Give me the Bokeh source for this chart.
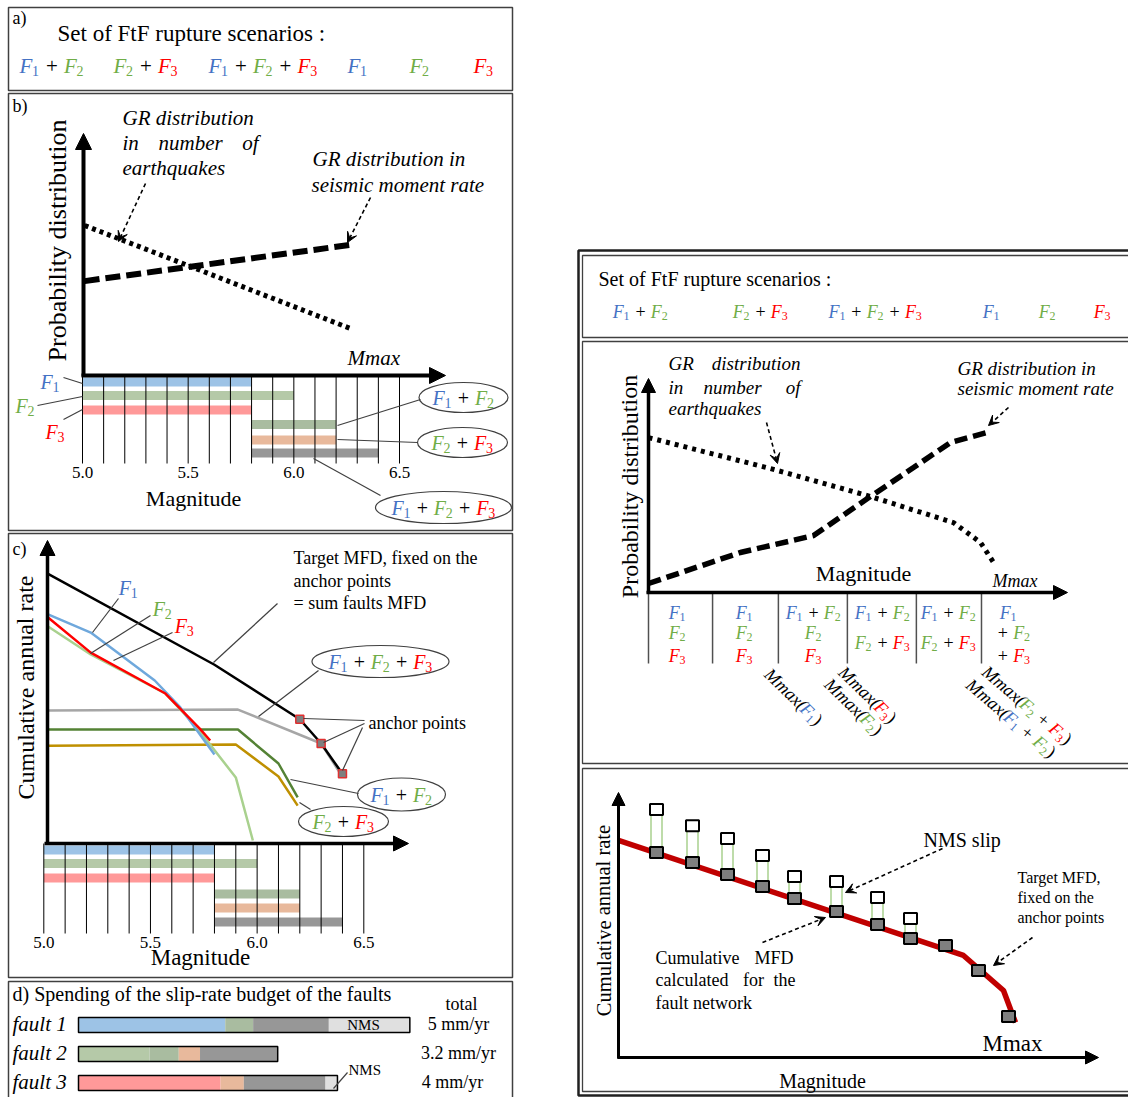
import math
from bokeh.plotting import figure
from bokeh.models import Range1d, Arrow, NormalHead, VeeHead, ColumnDataSource
from bokeh.core.properties import value
from bokeh.embed import file_html
from bokeh.resources import INLINE

# ======================= DATA =======================
# a) set of fault-to-fault (FtF) rupture scenarios
scenario_set = ["F1+F2", "F2+F3", "F1+F2+F3", "F1", "F2", "F3"]

# b) / c) magnitude ranges of the single-fault and FtF ruptures
rupture_names = ["F1", "F2", "F3", "F1+F2", "F2+F3", "F1+F2+F3"]
rupture_mag_min = [5.0, 5.0, 5.0, 5.8, 5.8, 5.8]
rupture_mag_max = [5.8, 6.0, 5.8, 6.2, 6.2, 6.4]
mag_bin_edges = [5.0, 5.1, 5.2, 5.3, 5.4, 5.5, 5.6, 5.7, 5.8, 5.9,
                 6.0, 6.1, 6.2, 6.3, 6.4, 6.5]
mag_tick_values = [5.0, 5.5, 6.0, 6.5]
mag_tick_labels = ["5.0", "5.5", "6.0", "6.5"]

# b) GR distributions (relative probability)
gr_number_mag = [5.01, 6.28]
gr_number = [0.62, 0.19]
gr_moment_mag = [5.01, 6.27]
gr_moment = [0.39, 0.54]

# c) MFDs (relative cumulative annual rate)
c_target_mag = [5.02, 5.80, 6.20, 6.30, 6.40]
c_target_rate = [0.89, 0.59, 0.41, 0.33, 0.23]
c_f1_mag = [5.02, 5.22, 5.52, 5.64, 5.80]
c_f1_rate = [0.756, 0.696, 0.538, 0.449, 0.294]
c_f2_mag = [5.02, 5.22, 5.57, 5.71, 5.90, 5.98]
c_f2_rate = [0.716, 0.624, 0.495, 0.389, 0.218, 0.010]
c_f3_mag = [5.02, 5.22, 5.57, 5.73, 5.78]
c_f3_rate = [0.746, 0.630, 0.495, 0.380, 0.340]
c_f123_mag = [5.02, 5.91, 6.30, 6.39]
c_f123_rate = [0.439, 0.442, 0.330, 0.231]
c_f12_mag = [5.02, 5.91, 6.10, 6.19]
c_f12_rate = [0.376, 0.376, 0.264, 0.152]
c_f23_mag = [5.02, 5.90, 6.10, 6.19]
c_f23_rate = [0.323, 0.327, 0.221, 0.125]
c_anchor_mag = [6.20, 6.30, 6.40]
c_anchor_rate = [0.41, 0.33, 0.23]

# d) spending of the slip-rate budget (mm/yr)
fault_names = ["fault 1", "fault 2", "fault 3"]
fault_total_labels = ["5 mm/yr", "3.2 mm/yr", "4 mm/yr"]
fault1_slip = [2.21, 0.42, 1.14, 1.22]
fault1_use = ["F1", "F1+F2", "F1+F2+F3", "NMS"]
fault2_slip = [1.07, 0.44, 0.32, 1.17]
fault2_use = ["F2", "F1+F2", "F2+F3", "F1+F2+F3"]
fault3_slip = [2.14, 0.35, 1.23, 0.18]
fault3_use = ["F3", "F2+F3", "F1+F2+F3", "NMS"]

# right, middle: GR distributions over the magnitude bins (relative units)
r2_bin_edges = [0.0, 0.182, 0.369, 0.565, 0.761, 0.946]
r2_gr_number_u = [0.0, 0.347, 0.622, 0.866, 0.943, 0.986]
r2_gr_number = [0.724, 0.579, 0.453, 0.327, 0.234, 0.126]
r2_gr_moment_u = [0.0, 0.261, 0.469, 0.622, 0.753, 0.858, 0.963]
r2_gr_moment = [0.042, 0.187, 0.266, 0.439, 0.584, 0.701, 0.748]
r2_bin_ruptures = [["F1", "F2", "F3"], ["F1", "F2", "F3"], ["F1+F2", "F2", "F3"],
                   ["F1+F2", "F2+F3"], ["F1+F2", "F2+F3"], ["F1", "+F2", "+F3"]]
r2_mmax_labels = ["F1", "F3", "F2", "F2+F3", "F1+F2"]

# right, bottom: cumulative MFD of the network vs target
r3_target_u = [0.0, 0.8625, 0.9625, 0.9925]
r3_target_v = [0.819, 0.385, 0.253, 0.132]
r3_mfd_u = [0.095, 0.185, 0.2725, 0.36, 0.44, 0.545, 0.6475, 0.73, 0.8175, 0.9, 0.975]
r3_mfd_v = [0.774, 0.736, 0.691, 0.645, 0.600, 0.551, 0.502, 0.449, 0.423, 0.328, 0.155]
r3_nms_v = [0.936, 0.875, 0.826, 0.762, 0.683, 0.664, 0.604, 0.525]

# ======================= STYLE =======================
SERIF = "Liberation Serif"
COLF = {"1": "#4472C4", "2": "#70AD47", "3": "#FF0000"}
RUP_COL = {"F1": "#9DC3E6", "F2": "#B5C9A8", "F3": "#FF9999", "F1+F2": "#A9BCA0",
           "F2+F3": "#E8B99C", "F1+F2+F3": "#979797", "NMS": "#E0E0E0"}
BOX = "#404040"
W_PX, H_PX = 1128, 1097

p = figure(width=W_PX, height=H_PX, x_range=Range1d(0, W_PX), y_range=Range1d(H_PX, 0),
           output_backend="svg", toolbar_location=None, min_border=0,
           x_axis_location=None, y_axis_location=None)
p.outline_line_color = None
p.grid.visible = False
p.background_fill_color = "white"


def xmap(px0, v0, px1, v1):
    k = (v1 - v0) / (px1 - px0)
    return Range1d(start=v0 + (0 - px0) * k, end=v0 + (W_PX - px0) * k)


def ymap(py0, v0, py1, v1):
    k = (v1 - v0) / (py1 - py0)
    return Range1d(start=v0 + (H_PX - py0) * k, end=v0 + (0 - py0) * k)


p.extra_x_ranges = {"mb": xmap(82, 5.0, 399, 6.5), "mc": xmap(43.3, 5.0, 363.3, 6.5),
                    "u2": xmap(648, 0, 1000, 1), "u3": xmap(618, 0, 1018, 1),
                    "slip": xmap(78, 0, 410, 5)}
p.extra_y_ranges = {"vb": ymap(375, 0, 133, 1), "vc": ymap(843, 0, 540, 1),
                    "v2": ymap(592, 0, 378, 1), "v3": ymap(1057, 0, 792, 1)}

# ---------- helpers ----------
texts = {}


def T(x, y, s, size, color="black", style="normal", align="left", baseline="middle",
      angle=0.0, xr="default", yr="default"):
    key = (size, style, align, baseline, xr, yr)
    d = texts.setdefault(key, dict(x=[], y=[], text=[], color=[], angle=[]))
    d["x"].append(x)
    d["y"].append(y)
    d["text"].append(s)
    d["color"].append(color)
    d["angle"].append(angle)


def formula(x, y, expr, size, align="left", ang=0.0, prefix=None, suffix=None):
    toks = []
    if prefix:
        toks.append(("pre", prefix))
    i = 0
    while i < len(expr):
        c = expr[i]
        if c == "F":
            toks.append(("F", expr[i + 1]))
            i += 2
        elif c == "+":
            toks.append(("+", None))
            i += 1
        else:
            i += 1
    if suffix:
        toks.append(("suf", suffix))
    W = {"F": 0.97, "+": 1.15, "pre": 2.75, "suf": 0.4}
    total = sum(W[k] for k, _ in toks) * size
    pos = {"left": 0.0, "center": -total / 2, "right": -total}[align]
    th = math.radians(ang)
    dx, dy = math.cos(th), math.sin(th)
    nx, ny = -math.sin(th), math.cos(th)
    a = -th
    for k, v in toks:
        bx, by = x + dx * pos, y + dy * pos
        if k == "F":
            col = COLF[v]
            T(bx, by, "F", size, col, "italic", angle=a)
            sp = pos + 0.6 * size
            T(x + dx * sp + nx * 0.27 * size, y + dy * sp + ny * 0.27 * size, v,
              round(size * 0.68), col, angle=a)
        elif k == "+":
            cp = pos + 0.575 * size
            T(x + dx * cp, y + dy * cp, "+", size, align="center", angle=a)
        elif k == "pre":
            T(bx, by, v, size, style="italic", angle=a)
        else:
            T(bx, by, v, size, angle=a)
        pos += W[k] * size


def darrow(x0, y0, x1, y1):
    p.add_layout(Arrow(x_start=x0, y_start=y0, x_end=x1, y_end=y1, line_width=1.6,
                       line_dash="4 3", line_color="black",
                       end=VeeHead(size=10, fill_color="black", line_color="black",
                                   line_width=1)))


def axarrow(x0, y0, x1, y1, w, hs):
    p.add_layout(Arrow(x_start=x0, y_start=y0, x_end=x1, y_end=y1, line_width=w,
                       line_color="black",
                       end=NormalHead(size=hs, fill_color="black", line_color="black",
                                      line_width=1)))


leaders = dict(x0=[], y0=[], x1=[], y1=[])


def lead(x0, y0, x1, y1):
    leaders["x0"].append(x0)
    leaders["y0"].append(y0)
    leaders["x1"].append(x1)
    leaders["y1"].append(y1)


# ---------- frames ----------
p.quad(left=[8, 8, 8, 8], right=[512, 512, 512, 512], top=[7, 93, 533, 981],
       bottom=[90, 530, 977, 1110], fill_color=None, line_color=BOX, line_width=1.5)
p.quad(left=[578], right=[1140], top=[250], bottom=[1095], fill_color=None,
       line_color="#202020", line_width=2.5)
p.quad(left=[582, 582, 582], right=[1136, 1136, 1136], top=[255, 341, 768],
       bottom=[337, 763, 1091], fill_color=None, line_color=BOX, line_width=1.3)

# ======================= PANEL a =======================
T(12, 17, "a)", 18)
T(57, 33, "Set of FtF rupture scenarios :", 23)
for xl, sc in zip([19, 113, 208, 347, 409, 473], scenario_set):
    formula(xl, 65, sc, 21)

# ======================= PANEL b =======================
T(12, 105, "b)", 18)
T(57, 240, "Probability distribution", 26, align="center", angle=math.pi / 2)
b_rows = [381.5, 395, 409.5, 424, 439.5, 452.5]
p.hbar(y=b_rows, height=9, left=rupture_mag_min, right=rupture_mag_max,
       fill_color=[RUP_COL[n] for n in rupture_names], line_color=None, x_range_name="mb")
p.segment(x0=mag_bin_edges, y0=[375] * len(mag_bin_edges), x1=mag_bin_edges,
          y1=[463] * len(mag_bin_edges), line_color="black", line_width=1,
          x_range_name="mb")
p.line(gr_number_mag, gr_number, line_color="black", line_width=5, line_dash="4 4",
       x_range_name="mb", y_range_name="vb")
p.line(gr_moment_mag, gr_moment, line_color="black", line_width=6, line_dash="15 6",
       x_range_name="mb", y_range_name="vb")
axarrow(83, 376, 83, 133, 4, 16)
axarrow(81, 375, 445, 375, 4, 16)
for mv, ml in zip(mag_tick_values, mag_tick_labels):
    T(mv, 472, ml, 17, align="center", xr="mb")
T(193, 498, "Magnitude", 22, align="center")
T(347, 357, "Mmax", 21, style="italic")
T(122, 117, "GR distribution", 21, style="italic")
T(122, 142, "in", 21, style="italic")
T(158, 142, "number", 21, style="italic")
T(258, 142, "of", 21, style="italic", align="right")
T(122, 167, "earthquakes", 21, style="italic")
T(312, 158, "GR distribution in", 21, style="italic")
T(311, 184, "seismic moment rate", 21, style="italic")
darrow(145, 183, 118, 241)
darrow(370, 197, 347, 242)
formula(40, 381, "F1", 20)
formula(15, 405, "F2", 20)
formula(45, 431, "F3", 20)
lead(63, 377, 82, 383)
lead(37, 405, 82, 396)
lead(63, 419, 82, 409)
p.ellipse(x=[463, 462, 443], y=[397, 442, 507], width=[89, 90, 136], height=[30, 30, 32],
          fill_color="white", line_color=BOX, line_width=1.2)
formula(463, 397, "F1+F2", 20, align="center")
formula(462, 442, "F2+F3", 20, align="center")
formula(443, 507, "F1+F2+F3", 20, align="center")
lead(337, 425, 420, 399)
lead(337, 439, 417, 442)
lead(313, 458, 380, 495)

# ======================= PANEL c =======================
T(12, 548, "c)", 18)
T(25, 687, "Cumulative annual rate", 24, align="center", angle=math.pi / 2)
c_rows = [849.5, 863, 877.5, 893.5, 907.5, 921.5]
p.hbar(y=c_rows, height=9, left=rupture_mag_min, right=rupture_mag_max,
       fill_color=[RUP_COL[n] for n in rupture_names], line_color=None, x_range_name="mc")
p.segment(x0=mag_bin_edges, y0=[843] * len(mag_bin_edges), x1=mag_bin_edges,
          y1=[933] * len(mag_bin_edges), line_color="black", line_width=1,
          x_range_name="mc")
for mags, rates, col in [(c_f123_mag, c_f123_rate, "#A6A6A6"),
                         (c_f12_mag, c_f12_rate, "#548235"),
                         (c_f23_mag, c_f23_rate, "#BF9000"),
                         (c_f2_mag, c_f2_rate, "#A9D18E"),
                         (c_f1_mag, c_f1_rate, "#6FA8DC"),
                         (c_f3_mag, c_f3_rate, "#FF0000"),
                         (c_target_mag, c_target_rate, "#000000")]:
    p.line(mags, rates, line_color=col, line_width=2.5, x_range_name="mc", y_range_name="vc")
axarrow(47, 844, 47, 540, 3.5, 15)
axarrow(44, 843, 408, 843, 3.5, 15)
for mv, ml in zip(mag_tick_values, mag_tick_labels):
    T(mv, 942, ml, 17, align="center", xr="mc")
T(200, 957, "Magnitude", 23, align="center")
formula(128, 587, "F1", 20, align="center")
formula(162, 608, "F2", 20, align="center")
formula(184, 625, "F3", 20, align="center")
lead(118, 598, 92, 632)
lead(150, 615, 90, 653)
lead(172, 632, 113, 660)
T(293, 557, "Target MFD, fixed on the", 18)
T(293, 580, "anchor points", 18)
T(293, 602, "= sum faults MFD", 18)
lead(277, 603, 213, 662)
lead(318, 670, 258, 716)
lead(364, 720, 303, 718)
lead(364, 723, 323, 742)
lead(362, 727, 342, 770)
lead(358, 793, 290, 779)
lead(310, 809, 299, 802)
T(368, 722, "anchor points", 18)
p.ellipse(x=[380, 401, 343], y=[661, 794, 821], width=[137, 88, 90], height=[32, 33, 30],
          fill_color="white", line_color=BOX, line_width=1.2)
formula(380, 661, "F1+F2+F3", 20, align="center")
formula(401, 794, "F1+F2", 20, align="center")
formula(343, 821, "F2+F3", 20, align="center")
p.rect(x=c_anchor_mag, y=c_anchor_rate, width=8, height=8, width_units="screen",
       height_units="screen", fill_color="#7F7F7F", line_color="#E03030", line_width=1.5,
       x_range_name="mc", y_range_name="vc")

# ======================= PANEL d =======================
T(12, 993, "d) Spending of the slip-rate budget of the faults", 20)
T(461, 1003, "total", 18, align="center")
d_rows = [1024.5, 1053.5, 1082.5]
for row, slips, uses, name, tot, tx in zip(d_rows, [fault1_slip, fault2_slip, fault3_slip],
                                           [fault1_use, fault2_use, fault3_use], fault_names,
                                           fault_total_labels, [458, 458, 452]):
    lefts, rights, acc = [], [], 0.0
    for s in slips:
        lefts.append(acc)
        acc += s
        rights.append(acc)
    p.hbar(y=[row] * len(slips), height=15, left=lefts, right=rights,
           fill_color=[RUP_COL[u] for u in uses], line_color=None, x_range_name="slip")
    p.hbar(y=[row], height=15, left=[0], right=[acc], fill_color=None, line_color="black",
           line_width=1.5, x_range_name="slip")
    T(12, row - 1, name, 21, style="italic")
    T(tx, row - 1, tot, 18, align="center")
T(363, 1024, "NMS", 15, align="center")
T(348, 1069, "NMS", 15)
lead(347, 1072, 333, 1088)

# ======================= RIGHT: top =======================
T(598, 278, "Set of FtF rupture scenarios :", 20)
for xc, sc in zip([640, 760, 875, 991, 1047, 1102], scenario_set):
    formula(xc, 311, sc, 18, align="center")

# ======================= RIGHT: middle =======================
T(629, 486, "Probability distribution", 24, align="center", angle=math.pi / 2)
p.line(r2_gr_number_u, r2_gr_number, line_color="black", line_width=5, line_dash="4 5",
       x_range_name="u2", y_range_name="v2")
p.line(r2_gr_moment_u, r2_gr_moment, line_color="black", line_width=5.5, line_dash="13 6",
       x_range_name="u2", y_range_name="v2")
axarrow(648, 593, 648, 378, 3.5, 14)
axarrow(646, 592, 1067, 592, 3.5, 14)
p.segment(x0=r2_bin_edges, y0=[592] * len(r2_bin_edges), x1=r2_bin_edges,
          y1=[663] * len(r2_bin_edges), line_color="#505050", line_width=1.5,
          x_range_name="u2")
T(668, 363, "GR", 19, style="italic")
T(800, 363, "distribution", 19, style="italic", align="right")
T(668, 387, "in", 19, style="italic")
T(703, 387, "number", 19, style="italic")
T(800, 387, "of", 19, style="italic", align="right")
T(668, 408, "earthquakes", 19, style="italic")
T(957, 368, "GR distribution in", 19, style="italic")
T(957, 388, "seismic moment rate", 19, style="italic")
darrow(766, 422, 777, 463)
darrow(1008, 407, 988, 425)
T(863, 573, "Magnitude", 22, align="center")
T(992, 580, "Mmax", 18, style="italic")
cell_x = [677, 744, 813, 882, 948, 1008]
for cx, rups in zip(cell_x, r2_bin_ruptures):
    ys = [612, 632, 655] if len(rups) == 3 else [612, 642]
    for yy, r in zip(ys, rups):
        if r.startswith("+"):
            formula(cx - 16, yy, r, 18)
        else:
            formula(cx, yy, r, 18, align="center")
for (sx, sy, ang), lab in zip([(767, 671, 44), (841, 669, 44), (827, 681, 44),
                               (984, 669, 40), (968, 682, 40)], r2_mmax_labels):
    formula(sx, sy, lab, 18, ang=ang, prefix="Mmax(", suffix=")")

# ======================= RIGHT: bottom =======================
T(603, 920, "Cumulative annual rate", 20.5, align="center", angle=math.pi / 2)
axarrow(618, 1058, 618, 792, 3, 13)
axarrow(617, 1057, 1098, 1057, 3, 13)
p.line(r3_target_u, r3_target_v, line_color="#C00000", line_width=5.5,
       x_range_name="u3", y_range_name="v3")
n_nms = len(r3_nms_v)
p.rect(x=r3_mfd_u[:n_nms], y=[(a + b) / 2 for a, b in zip(r3_nms_v, r3_mfd_v)],
       width=11, width_units="screen",
       height=[a - b for a, b in zip(r3_nms_v, r3_mfd_v)], fill_color=None,
       line_color="#A9D18E", line_width=1.5, x_range_name="u3", y_range_name="v3")
p.rect(x=r3_mfd_u[:n_nms], y=r3_nms_v, width=13, height=11, width_units="screen",
       height_units="screen", fill_color="white", line_color="black", line_width=2,
       x_range_name="u3", y_range_name="v3")
p.rect(x=r3_mfd_u, y=r3_mfd_v, width=13, height=11, width_units="screen",
       height_units="screen", fill_color="#7F7F7F", line_color="black", line_width=2,
       x_range_name="u3", y_range_name="v3")
T(923, 839, "NMS slip", 20)
darrow(942, 848, 845, 892)
T(1017, 877, "Target MFD,", 16)
T(1017, 897, "fixed on the", 16)
T(1017, 917, "anchor points", 16)
darrow(1032, 937, 993, 965)
T(655, 957, "Cumulative", 18)
T(793, 957, "MFD", 18, align="right")
T(655, 979, "calculated", 18)
T(753, 979, "for", 18, align="center")
T(795, 979, "the", 18, align="right")
T(655, 1002, "fault network", 18)
darrow(762, 942, 825, 917)
T(982, 1043, "Mmax", 23)
T(822, 1080, "Magnitude", 20, align="center")

# ---------- leaders & texts ----------
p.segment(x0="x0", y0="y0", x1="x1", y1="y1", source=ColumnDataSource(leaders),
          line_color="#404040", line_width=1.2)

for (size, style, align, baseline, xr, yr), d in texts.items():
    kw = {}
    if xr != "default":
        kw["x_range_name"] = xr
    if yr != "default":
        kw["y_range_name"] = yr
    p.text(x="x", y="y", text="text", angle="angle", source=ColumnDataSource(d),
           text_color="color", text_font=value(SERIF), text_font_size=f"{size}px",
           text_font_style=style, text_align=align, text_baseline=baseline, **kw)

open("out.html", "w").write(file_html(p, INLINE))
